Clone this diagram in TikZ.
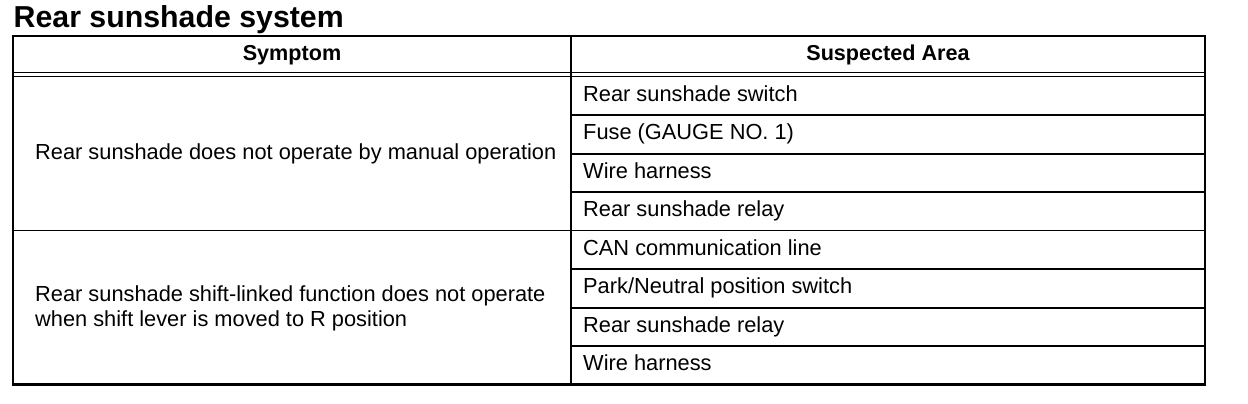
\documentclass[tikz,border=0pt]{standalone}
\usepackage{fontspec}
\setmainfont{Liberation Sans}
\begin{document}
\begin{tikzpicture}[x=1pt,y=-1pt,
  cell/.style={anchor=base west,inner sep=0pt,font=\fontsize{21.8}{25}\selectfont},
  head/.style={anchor=base,inner sep=0pt,font=\fontsize{21.6}{25}\selectfont\bfseries},
  outer/.style={line width=2.2pt},
  thin/.style={line width=1.6pt},
  rowline/.style={line width=2pt}]
\useasboundingbox[fill=white] (0,0) rectangle (1248,404);
% title
\node[anchor=base west,inner sep=0pt,font=\fontsize{30.3}{34}\selectfont\bfseries] (title) at (13.5,27.5) {Rear sunshade system};
% table frame
\coordinate (tl) at (13,36);
\coordinate (br) at (1205,384.5);
\draw[thin] (13,72.5) -- (1205,72.5);
\draw[thin] (13,76.5) -- (1205,76.5);
\draw[thin] (571,36) -- (571,384.5);
\foreach \k in {1,2,3,5,6,7} {
  \draw[rowline] (571,76.5+\k*38.5) -- (1205,76.5+\k*38.5);
}
\draw[thin] (13,230.5) -- (1205,230.5);
\draw[outer] (tl) rectangle (br);
% headers
\node[head] (hs) at (292,61) {Symptom};
\node[head] (ha) at (888,61) {Suspected Area};
% symptoms
\node[cell] (s1) at (35,159.5) {Rear sunshade does not operate by manual operation};
\node[cell] (s2a) at (35,301) {Rear sunshade shift-linked function does not operate};
\node[cell] (s2b) at (35,326) {when shift lever is moved to R position};
% suspected areas
\node[cell] (a1) at (583,101) {Rear sunshade switch};
\node[cell] (a2) at (583,139.5) {Fuse (GAUGE NO. 1)};
\node[cell] (a3) at (583,178) {Wire harness};
\node[cell] (a4) at (583,216.5) {Rear sunshade relay};
\node[cell] (a5) at (583,255) {CAN communication line};
\node[cell] (a6) at (583,293.5) {Park/Neutral position switch};
\node[cell] (a7) at (583,332) {Rear sunshade relay};
\node[cell] (a8) at (583,370.5) {Wire harness};
\end{tikzpicture}
\end{document}
